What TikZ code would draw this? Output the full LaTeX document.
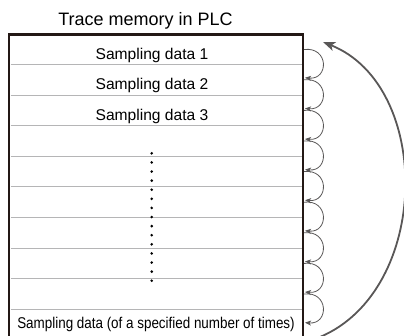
\documentclass[tikz,border=0pt]{standalone}
\usepackage{fontspec}
\setmainfont{Liberation Sans}
\usetikzlibrary{arrows.meta}
\definecolor{frame}{HTML}{231815}
\definecolor{rule}{HTML}{B5B5B6}
\definecolor{arrowgray}{HTML}{595757}
\tikzstyle{rowtxt}=[anchor=base, inner sep=0pt, font=\fontsize{15.6}{18}\selectfont]
\tikzstyle{titletxt}=[anchor=base, inner sep=0pt, font=\fontsize{18}{21}\selectfont]
\tikzstyle{rowline}=[rule, line width=1pt]
\tikzstyle{hop}=[arrowgray, line width=0.8pt, -{Stealth[length=6pt,width=5pt,inset=1.5pt]}]
\tikzstyle{wrap}=[arrowgray, line width=1.8pt, -{Stealth[length=12pt,width=9pt,inset=3pt]}]

\begin{document}
\begin{tikzpicture}[x=1pt, y=-1pt]
\useasboundingbox (0,0) rectangle (404,335);

\node[titletxt] (t) at (145.5,25) {Trace memory in PLC};

% memory block
\draw[rowline] (10.5,64.5) -- (301.5,64.5);
\draw[rowline] (10.5,95.1) -- (301.5,95.1);
\draw[rowline] (10.5,125.7) -- (301.5,125.7);
\draw[rowline] (10.5,156.3) -- (301.5,156.3);
\draw[rowline] (10.5,186.9) -- (301.5,186.9);
\draw[rowline] (10.5,217.5) -- (301.5,217.5);
\draw[rowline] (10.5,248.1) -- (301.5,248.1);
\draw[rowline] (10.5,278.7) -- (301.5,278.7);
\draw[rowline] (10.5,309.3) -- (301.5,309.3);
\draw[frame, line width=2.5pt] (9,340) -- (9,34.5) -- (303,34.5) -- (303,340);

\node[rowtxt] (d1) at (152,59.2) {Sampling data 1};
\node[rowtxt] (d2) at (152,89.8) {Sampling data 2};
\node[rowtxt] (d3) at (152,120.4) {Sampling data 3};
\node[rowtxt] (d10) at (156,328) {\scalebox{0.86}[1]{Sampling data (of a specified number of times)}};

\draw[black, line width=2.9pt, line cap=round, dash pattern=on 0pt off 9.1pt] (151.7,153.3) -- (151.7,281);

% right edge of each row
\coordinate (e1) at (304,49.5);
\coordinate (e2) at (304,79.8);
\coordinate (e3) at (304,110.4);
\coordinate (e4) at (304,141.0);
\coordinate (e5) at (304,171.6);
\coordinate (e6) at (304,202.2);
\coordinate (e7) at (304,232.8);
\coordinate (e8) at (304,263.4);
\coordinate (e9) at (304,294.0);
\coordinate (e10) at (304,324.6);

\draw[hop] (e1) .. controls +(25,-3) and +(24,2) .. ([shift={(1pt,2pt)}]e2);
\draw[hop] (e2) .. controls +(25,-3) and +(24,2) .. ([shift={(1pt,2pt)}]e3);
\draw[hop] (e3) .. controls +(25,-3) and +(24,2) .. ([shift={(1pt,2pt)}]e4);
\draw[hop] (e4) .. controls +(25,-3) and +(24,2) .. ([shift={(1pt,2pt)}]e5);
\draw[hop] (e5) .. controls +(25,-3) and +(24,2) .. ([shift={(1pt,2pt)}]e6);
\draw[hop] (e6) .. controls +(25,-3) and +(24,2) .. ([shift={(1pt,2pt)}]e7);
\draw[hop] (e7) .. controls +(25,-3) and +(24,2) .. ([shift={(1pt,2pt)}]e8);
\draw[hop] (e8) .. controls +(25,-3) and +(24,2) .. ([shift={(1pt,2pt)}]e9);
\draw[hop] (e9) .. controls +(25,-3) and +(24,2) .. ([shift={(1pt,2pt)}]e10);

% wrap around to the first row
\coordinate (bstart) at (320,337);
\coordinate (btip) at (323,42);
\draw[wrap] (bstart) .. controls (431,290) and (433,86) .. (btip);

\end{tikzpicture}
\end{document}
